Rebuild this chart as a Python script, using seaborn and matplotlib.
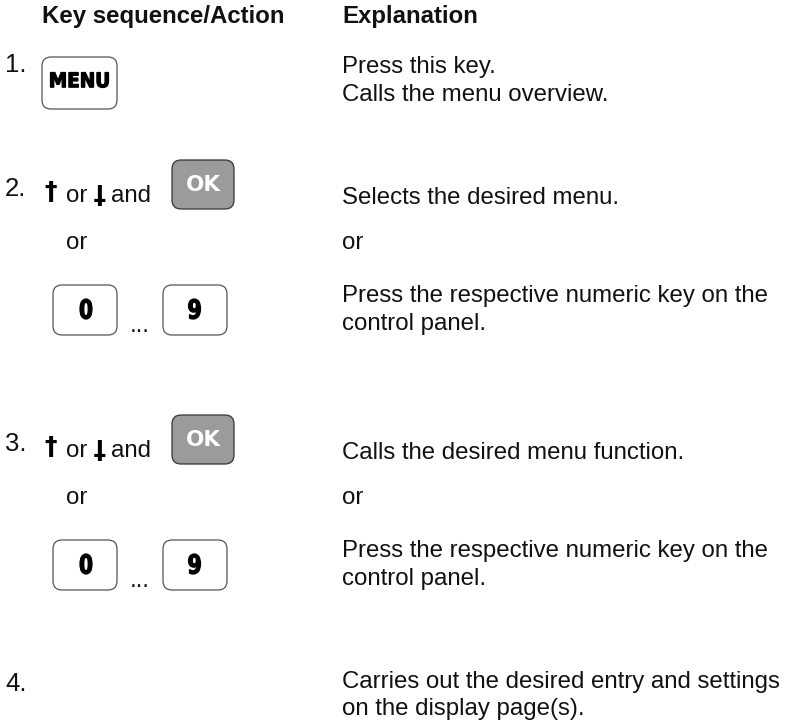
import matplotlib
matplotlib.use("Agg")
import matplotlib.pyplot as plt
from matplotlib.patches import FancyBboxPatch, PathPatch
from matplotlib.textpath import TextPath
from matplotlib.font_manager import FontProperties
from matplotlib.transforms import Affine2D
import seaborn as sns

sns.set_theme(style="white")
plt.rcParams['font.family'] = ['Liberation Sans', 'DejaVu Sans']

# ---------------- content ----------------
header_left = "Key sequence/Action"
header_right = "Explanation"

step_labels = ["1.", "2.", "3.", "4."]
step_baselines = [72, 196, 451, 691]

explain_lines = [
    "Press this key.",
    "Calls the menu overview.",
    "Selects the desired menu.",
    "or",
    "Press the respective numeric key on the",
    "control panel.",
    "Calls the desired menu function.",
    "or",
    "Press the respective numeric key on the",
    "control panel.",
    "Carries out the desired entry and settings",
    "on the display page(s).",
]
explain_baselines = [73, 101, 204, 249, 302, 330, 459, 504, 557, 585, 688, 715]

nav_words = ["or", "and"]
nav_baselines = [202, 457]
ok_key_tops = [160, 415]
alt_word = "or"
alt_baselines = [249, 504]
numeric_keys = ["0", "9"]
numeric_key_tops = [285, 540]
menu_key = "MENU"
ok_key = "OK"

# ---------------- figure ----------------
W, H = 790, 722
fig = plt.figure(figsize=(W / 100, H / 100), dpi=100)
ax = fig.add_axes([0, 0, 1, 1])
ax.set_xlim(0, W)
ax.set_ylim(H, 0)
ax.axis('off')
sns.despine(ax=ax, left=True, bottom=True)

BODY = 17.3
NUM = 18.5
COL_L = 42
COL_R = 342
TXT = '#111111'
BOLD_FP = FontProperties(family='DejaVu Sans', weight='bold')


def box(x, y, w, h, fill, edge):
    ax.add_patch(FancyBboxPatch((x, y), w, h,
                                boxstyle="round,pad=0,rounding_size=9",
                                facecolor=fill, edgecolor=edge, linewidth=0.9))


def condensed(cx, cy, s, width, height, color='black', lw=0.9):
    tp = TextPath((0, 0), s, size=100, prop=BOLD_FP)
    bb = tp.get_extents()
    tr = (Affine2D()
          .translate(-(bb.x0 + bb.width / 2), -(bb.y0 + bb.height / 2))
          .scale(width / bb.width, -height / bb.height)
          .translate(cx, cy))
    ax.add_patch(PathPatch(tr.transform_path(tp), facecolor=color,
                           edgecolor=color, linewidth=lw))


# headers
ax.text(COL_L, 23, header_left, fontsize=BODY, fontweight='bold', va='baseline', color=TXT)
ax.text(COL_R, 23, header_right, fontsize=BODY, fontweight='bold', va='baseline', color=TXT)

# step numbers
for lab, yb in zip(step_labels, step_baselines):
    ax.text(5, yb, lab, fontsize=NUM, va='baseline', color=TXT)

# explanations
for line, yb in zip(explain_lines, explain_baselines):
    ax.text(COL_R, yb, line, fontsize=BODY, va='baseline', color=TXT)

# MENU key
box(42, 57, 75, 52, 'white', '#555555')
condensed(79.5, 80, menu_key, 58, 15)

# navigation rows: arrow or arrow and OK
for yb, top in zip(nav_baselines, ok_key_tops):
    ax.text(51, yb - 10, "\u2020", fontsize=18, fontweight='bold', ha='center', va='center',
            family='DejaVu Sans', color='black')
    ax.text(66, yb, nav_words[0], fontsize=BODY, va='baseline', color=TXT)
    ax.text(99, yb - 9, "\u2020", fontsize=18, fontweight='bold', ha='center', va='center',
            family='DejaVu Sans', color='black', rotation=180, rotation_mode='anchor')
    ax.text(111, yb, nav_words[1], fontsize=BODY, va='baseline', color=TXT)
    box(172, top, 62, 49, '#9b9b9b', '#333333')
    ax.text(203, top + 25, ok_key, ha='center', va='center', color='white',
            fontsize=15.5, fontweight='bold', family='DejaVu Sans')

# alternative "or"
for yb in alt_baselines:
    ax.text(66, yb, alt_word, fontsize=BODY, va='baseline', color=TXT)

# numeric keys
for top in numeric_key_tops:
    box(53, top, 64, 50, 'white', '#555555')
    condensed(86, top + 24, numeric_keys[0], 12, 20)
    ax.text(130, top + 47, "...", fontsize=BODY, va='baseline', color=TXT)
    box(163, top, 64, 50, 'white', '#555555')
    condensed(194.5, top + 24, numeric_keys[1], 12, 20)

fig.savefig("out.png", dpi=100, facecolor='white')
